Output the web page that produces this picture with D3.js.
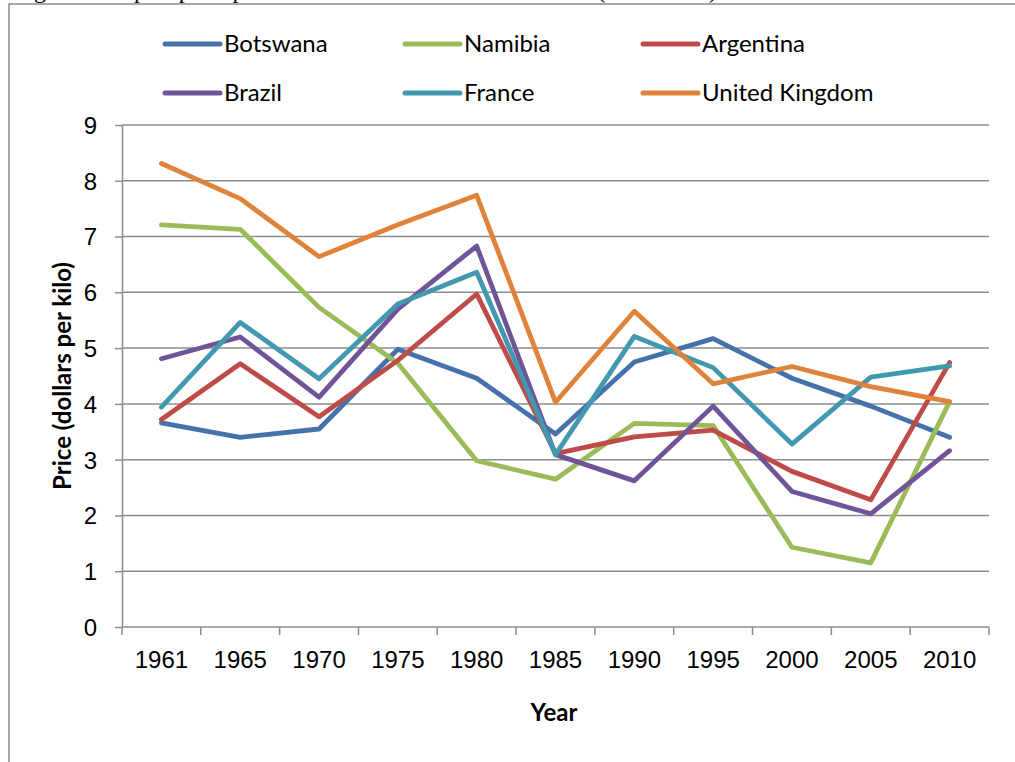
<!DOCTYPE html>
<meta charset="utf-8">
<style>
body { margin: 0; background: #fff; }
svg { font-family: Lato, "Open Sans", sans-serif; }
.grid line { stroke: #8c8c8c; stroke-width: 1.5; }
.axis path, .axis line { stroke: #8c8c8c; stroke-width: 1.5; fill: none; }
.axis text { font-size: 24px; fill: #000; }
.series { fill: none; stroke-width: 4.8; stroke-linejoin: round; stroke-linecap: round; }
</style>
<body>
<div id="chart"></div>
</body>
<script src="https://cdn.jsdelivr.net/npm/d3@7"></script>
<script>

// years on the category axis
var years = ["1961", "1965", "1970", "1975", "1980", "1985", "1990", "1995", "2000", "2005", "2010"];

// price in dollars per kilo
var botswana  = [3.66, 3.40, 3.55, 4.98, 4.46, 3.46, 4.75, 5.17, 4.46, 3.96, 3.40];
var namibia   = [7.21, 7.13, 5.73, 4.73, 2.98, 2.65, 3.65, 3.61, 1.43, 1.15, 4.04];
var argentina = [3.72, 4.72, 3.77, 4.78, 5.97, 3.11, 3.41, 3.53, 2.79, 2.28, 4.74];
var brazil    = [4.81, 5.20, 4.12, 5.70, 6.83, 3.09, 2.62, 3.96, 2.43, 2.03, 3.16];
var france    = [3.94, 5.46, 4.45, 5.79, 6.36, 3.09, 5.21, 4.65, 3.28, 4.48, 4.68];
var uk        = [8.31, 7.68, 6.64, 7.21, 7.74, 4.03, 5.66, 4.36, 4.67, 4.31, 4.04];

var seriesNames  = ["Botswana", "Namibia", "Argentina", "Brazil", "France", "United Kingdom"];
var seriesValues = [botswana, namibia, argentina, brazil, france, uk];
var seriesColors = ["#4572AA", "#9BBB59", "#BE4B48", "#6F5597", "#4198AF", "#DF833A"];

var width = 1015, height = 762;

var svg = d3.select("#chart").append("svg")
    .attr("width", width)
    .attr("height", height);

// caption of the document, mostly cut off above the frame (as in the picture)
svg.append("text")
    .attr("x", 14)
    .attr("y", -2)
    .style("font-family", "'Liberation Serif', serif")
    .style("font-size", "24px")
    .text("Figure 2: Import price per kilo of beef for selected countries (1961-2010)");

// outer chart frame (runs off the right and bottom edges)
svg.append("path")
    .attr("d", "M9,762V4H1015")
    .attr("fill", "none")
    .attr("stroke", "#8c8c8c")
    .attr("stroke-width", 1.5);

var x = d3.scaleBand().domain(years).range([122, 989]).padding(0);
var y = d3.scaleLinear().domain([0, 9]).range([627, 125]);

// horizontal gridlines
svg.append("g")
    .attr("class", "grid")
  .selectAll("line")
    .data(d3.range(1, 10))
  .enter().append("line")
    .attr("x1", 122)
    .attr("x2", 989)
    .attr("y1", function(d) { return y(d); })
    .attr("y2", function(d) { return y(d); });

var yAxis = d3.axisLeft(y).ticks(9).tickSize(7).tickPadding(18).tickSizeOuter(0);
var gy = svg.append("g")
    .attr("class", "axis")
    .attr("transform", "translate(122,0)")
    .call(yAxis);
gy.selectAll("text").attr("dy", "0.35em");

// x axis: labels at centres, ticks at category boundaries
var xAxis = d3.axisBottom(x).tickSize(0).tickPadding(24);
var gx = svg.append("g")
    .attr("class", "axis")
    .attr("transform", "translate(0,627)")
    .call(xAxis);
gx.select(".domain").attr("d", "M122,0H989");
gx.selectAll(".bound")
    .data(d3.range(years.length + 1))
  .enter().append("line")
    .attr("class", "bound")
    .attr("x1", function(i) { return x.range()[0] + i * x.step(); })
    .attr("x2", function(i) { return x.range()[0] + i * x.step(); })
    .attr("y1", 0)
    .attr("y2", 8);

// axis titles
svg.append("text")
    .attr("transform", "translate(71,376) rotate(-90)")
    .attr("text-anchor", "middle")
    .style("font-size", "24px")
    .style("font-weight", "bold")
    .text("Price  (dollars per kilo)");

svg.append("text")
    .attr("x", 554)
    .attr("y", 721)
    .attr("text-anchor", "middle")
    .style("font-size", "24px")
    .style("font-weight", "bold")
    .text("Year");

// lines
var line = d3.line()
    .x(function(d, i) { return x(years[i]) + x.bandwidth() / 2; })
    .y(function(d) { return y(d); });

svg.append("g").selectAll("path")
    .data(seriesValues)
  .enter().append("path")
    .attr("class", "series")
    .attr("stroke", function(d, i) { return seriesColors[i]; })
    .attr("d", line);

// legend, two rows of three
var legendX = [165, 405, 643];
var legendY = [44, 93];

var legend = svg.append("g").selectAll("g")
    .data(seriesNames)
  .enter().append("g")
    .attr("transform", function(d, i) {
      return "translate(" + legendX[i % 3] + "," + legendY[Math.floor(i / 3)] + ")";
    });

legend.append("line")
    .attr("x1", 0)
    .attr("x2", 55)
    .attr("stroke", function(d, i) { return seriesColors[i]; })
    .attr("stroke-width", 5)
    .attr("stroke-linecap", "round");

legend.append("text")
    .attr("x", 59)
    .attr("dy", "0.35em")
    .style("font-size", "24px")
    .text(function(d) { return d; });

</script>
